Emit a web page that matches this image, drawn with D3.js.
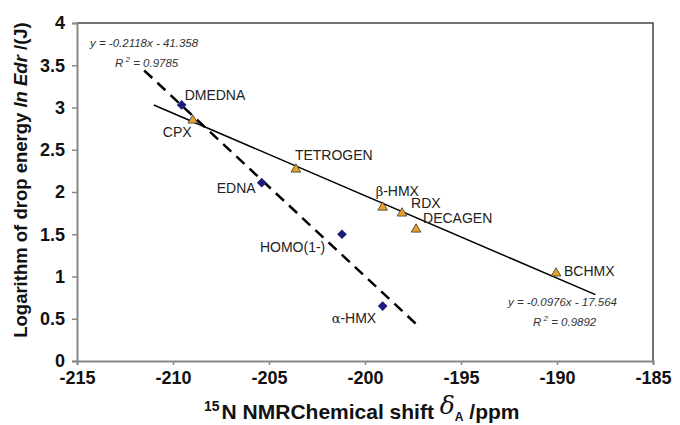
<!DOCTYPE html>
<html>
<head>
<meta charset="utf-8">
<script src="https://d3js.org/d3.v7.min.js"></script>
<style>
  body { margin: 0; background: #fff; }
  text { font-family: Arial, "Liberation Sans", sans-serif; }
</style>
</head>
<body>
<svg id="svg"></svg>
<script>
  // compounds: 15N NMR shift (ppm) vs ln(Edr)
  let diamondNames  = ['DMEDNA', 'EDNA', 'HOMO(1-)', 'α-HMX'];
  let diamondShift  = [-209.55, -205.38, -201.2, -199.08];
  let diamondEnergy = [3.03, 2.11, 1.50, 0.65];

  let triangleNames  = ['CPX', 'TETROGEN', 'β-HMX', 'RDX', 'DECAGEN', 'BCHMX'];
  let triangleShift  = [-208.97, -203.6, -199.08, -198.07, -197.34, -190.05];
  let triangleEnergy = [2.86, 2.28, 1.83, 1.76, 1.57, 1.05];

  // trendlines: [slope, intercept], drawn over [xFrom, xTo]
  let dashedFit = [-0.2118, -41.358];
  let dashedRange = [-211.5, -197.1];
  let solidFit = [-0.0976, -17.564];
  let solidRange = [-211.0, -188.0];

  let xTicks = [-215, -210, -205, -200, -195, -190, -185];
  let yTicks = [0, 0.5, 1, 1.5, 2, 2.5, 3, 3.5, 4];

  let width = 680;
  let height = 425;
  let margin = { top: 23, right: 27, bottom: 64, left: 77 };

  let svg = d3.select('#svg')
    .attr('width', width)
    .attr('height', height);

  let x = d3.scaleLinear().domain([-215, -185]).range([margin.left, width - margin.right]);
  let y = d3.scaleLinear().domain([0, 4]).range([height - margin.bottom, margin.top]);

  // frame (top + right)
  svg.append('path')
    .attr('d', `M${x(-215)},${y(4)}H${x(-185)}V${y(0)}`)
    .attr('fill', 'none')
    .attr('stroke', '#444')
    .attr('stroke-width', 1.5);

  let xAxis = svg.append('g')
    .attr('transform', `translate(0,${y(0)})`)
    .call(d3.axisBottom(x).tickValues(xTicks).tickSize(4).tickPadding(6).tickFormat(d3.format('d')));

  let yAxis = svg.append('g')
    .attr('transform', `translate(${x(-215)},0)`)
    .call(d3.axisLeft(y).tickValues(yTicks).tickSize(5).tickPadding(7).tickFormat(d => d));

  [xAxis, yAxis].forEach(g => {
    g.select('.domain').attr('stroke', '#888').attr('stroke-width', 2);
    g.selectAll('.tick line').attr('stroke', '#888').attr('stroke-width', 1.5);
    g.selectAll('.tick text')
      .attr('fill', '#111')
      .style('font-size', '18px')
      .style('font-weight', 'bold')
      .style('font-family', 'Arial, "Liberation Sans", sans-serif')
      .text(function() { return this.textContent.replace('−', '-'); });
  });

  // trendlines
  function fitLine(fit, range) {
    return range.map(v => [x(v), y(fit[0] * v + fit[1])]);
  }
  svg.append('path')
    .attr('d', d3.line()(fitLine(dashedFit, dashedRange)))
    .attr('stroke', '#000')
    .attr('stroke-width', 2.5)
    .attr('stroke-dasharray', '11,7')
    .attr('fill', 'none');
  svg.append('path')
    .attr('d', d3.line()(fitLine(solidFit, solidRange)))
    .attr('stroke', '#000')
    .attr('stroke-width', 1.5)
    .attr('fill', 'none');

  // markers
  let diamonds = diamondNames.map((n, i) => ({ name: n, sx: diamondShift[i], e: diamondEnergy[i] }));
  let triangles = triangleNames.map((n, i) => ({ name: n, sx: triangleShift[i], e: triangleEnergy[i] }));

  svg.selectAll('.dia')
    .data(diamonds)
    .enter()
    .append('path')
    .attr('d', d3.symbol().type(d3.symbolDiamond2).size(60))
    .attr('transform', d => `translate(${x(d.sx)},${y(d.e)})`)
    .attr('fill', '#1c1c7a');

  svg.selectAll('.tri')
    .data(triangles)
    .enter()
    .append('path')
    .attr('d', d3.symbol().type(d3.symbolTriangle).size(40))
    .attr('transform', d => `translate(${x(d.sx)},${y(d.e) + 1})`)
    .attr('fill', '#e8a326')
    .attr('stroke', '#333')
    .attr('stroke-width', 0.8);

  // point labels, offset from the marker
  let labelOffset = {
    'DMEDNA': [3, -5], 'EDNA': [-45, 10], 'HOMO(1-)': [-82, 18], 'α-HMX': [-51, 17],
    'CPX': [-30, 18], 'TETROGEN': [-1, -8], 'β-HMX': [-7, -10], 'RDX': [9, -4],
    'DECAGEN': [7, -5], 'BCHMX': [8, 4]
  };

  diamonds.concat(triangles).forEach(d => {
    let off = labelOffset[d.name];
    let t = svg.append('text')
      .attr('x', x(d.sx) + off[0])
      .attr('y', y(d.e) + off[1])
      .attr('fill', '#222')
      .style('font-size', '14px');
    let greek = d.name.charAt(0);
    if (greek === 'α' || greek === 'β') {
      t.append('tspan').style('font-family', '"DejaVu Serif", serif').style('font-size', '13px').text(greek);
      t.append('tspan').text(d.name.slice(1));
    } else {
      t.text(d.name);
    }
  });

  // regression equations
  function equation(px, py, eq, r2) {
    let g = svg.append('g').attr('fill', '#333').style('font-style', 'italic').style('font-size', '11.5px');
    g.append('text').attr('x', px).attr('y', py).text(eq);
    let r = g.append('text').attr('x', px + 25).attr('y', py + 20);
    r.append('tspan').text('R');
    r.append('tspan').attr('dy', -5).style('font-size', '8px').text(' 2');
    r.append('tspan').attr('dy', 5).text(' = ' + r2);
  }
  equation(90, 47, 'y = -0.2118x - 41.358', '0.9785');
  equation(508, 306, 'y = -0.0976x - 17.564', '0.9892');

  // axis titles
  let xt = svg.append('text')
    .attr('x', 204)
    .attr('y', 419)
    .attr('fill', '#111')
    .style('font-weight', 'bold')
    .style('font-size', '21px');
  xt.append('tspan').attr('dy', -8).style('font-size', '14px').text('15');
  xt.append('tspan').attr('dy', 8).attr('dx', 2).text('N NMRChemical shift ');
  xt.append('tspan').attr('dy', -5).style('font-family', '"DejaVu Serif", serif').style('font-style', 'italic').style('font-weight', 'normal').style('font-size', '25px').text('δ');
  xt.append('tspan').attr('dy', 7).style('font-size', '12px').text('A');
  xt.append('tspan').attr('dy', -2).text(' /ppm');

  let yt = svg.append('text')
    .attr('transform', `translate(27,180) rotate(-90)`)
    .attr('text-anchor', 'middle')
    .attr('fill', '#111')
    .style('font-weight', 'bold')
    .style('font-size', '18.5px');
  yt.append('tspan').text('Logarithm of drop energy ');
  yt.append('tspan').style('font-style', 'italic').text('ln Edr');
  yt.append('tspan').text(' /(J)');
</script>
</body>
</html>
